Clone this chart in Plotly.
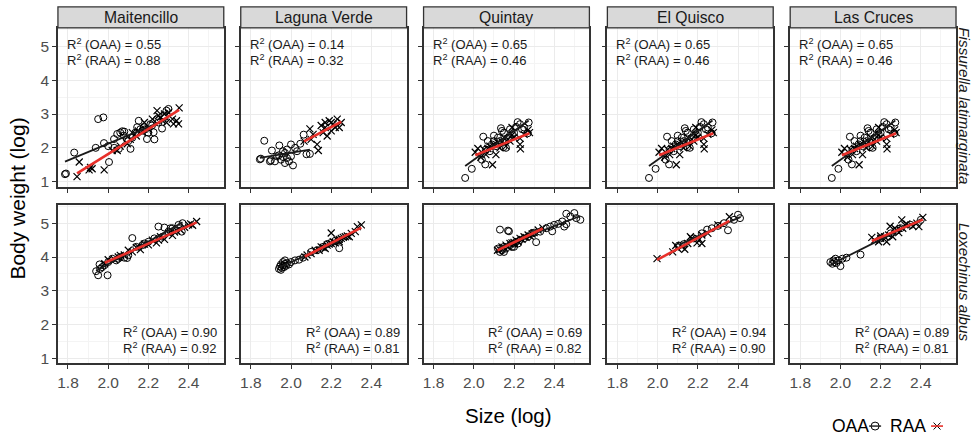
import numpy as np
import plotly.graph_objects as go

# ---------------------------------------------------------------- data
sites = ["Maitencillo", "Laguna Verde", "Quintay", "El Quisco", "Las Cruces"]
species = ["Fissurella latimarginata", "Loxechinus albus"]

r2_oaa_fl = [0.55, 0.14, 0.65, 0.65, 0.65]
r2_raa_fl = [0.88, 0.32, 0.46, 0.46, 0.46]
r2_oaa_la = [0.90, 0.89, 0.69, 0.94, 0.89]
r2_raa_la = [0.92, 0.81, 0.82, 0.90, 0.81]

x_ticks = [1.8, 2.0, 2.2, 2.4]
y_ticks = [1, 2, 3, 4, 5]

# (log size, log body weight) pairs, Fissurella latimarginata
fl_maitencillo_oaa = [
    (1.785, 1.22), (1.79, 1.24), (1.831, 1.86), (1.95, 2.85), (1.976, 2.90),
    (1.938, 2.00), (2.004, 1.58), (1.979, 2.14), (2.029, 2.26), (2.045, 2.41),
    (2.07, 2.49), (2.078, 2.36), (2.053, 1.97), (2.093, 2.26), (2.111, 1.97),
    (2.144, 2.61), (2.152, 2.80), (2.17, 2.51), (2.193, 2.26), (2.218, 2.66),
    (2.243, 2.85), (2.268, 2.57), (2.30, 3.15), (2.226, 2.46), (2.177, 2.61),
    (2.06, 2.45), (2.08, 2.48), (2.12, 2.30), (2.16, 2.55), (2.20, 2.45),
    (2.25, 2.75), (2.28, 2.95), (2.03, 2.00), (2.00, 2.05), (2.10, 2.20),
    (2.135, 2.45), (2.185, 2.55), (2.21, 2.70), (2.29, 3.10), (2.23, 2.25),
]
fl_maitencillo_raa = [
    (1.845, 1.15), (1.856, 1.58), (1.905, 1.35), (1.912, 1.42), (1.92, 1.38),
    (1.98, 1.35), (2.02, 1.92), (2.045, 1.92), (2.06, 2.05), (2.095, 2.12),
    (2.11, 2.25), (2.12, 2.45), (2.14, 2.35), (2.15, 2.50), (2.17, 2.45),
    (2.18, 2.75), (2.20, 2.55), (2.22, 2.85), (2.243, 3.10), (2.25, 2.95),
    (2.26, 2.90), (2.29, 2.75), (2.325, 2.71), (2.35, 2.71), (2.353, 3.18),
    (2.32, 2.85), (2.28, 3.00), (2.30, 3.05), (2.27, 2.80), (2.34, 2.80),
]
fl_lagunaverde_oaa = [
    (1.845, 1.66), (1.85, 1.68), (1.867, 2.21), (1.895, 1.60), (1.90, 1.63),
    (1.905, 1.92), (1.92, 1.60), (1.94, 1.78), (1.942, 2.07), (1.96, 1.73),
    (1.96, 1.90), (1.97, 1.55), (1.97, 1.85), (1.99, 1.60), (2.00, 2.10),
    (2.01, 1.48), (2.03, 1.90), (2.046, 2.12), (2.063, 2.39), (2.077, 1.81),
    (2.094, 1.82), (1.98, 1.95), (1.95, 1.65), (1.93, 1.75), (2.00, 1.75),
    (2.02, 2.00), (1.98, 1.70),
]
fl_lagunaverde_raa = [
    (2.065, 2.20), (2.094, 2.56), (2.10, 2.25), (2.11, 2.40), (2.13, 2.10),
    (2.136, 1.92), (2.15, 2.66), (2.16, 2.45), (2.17, 2.60), (2.18, 2.35),
    (2.19, 2.80), (2.20, 2.75), (2.21, 2.70), (2.22, 2.60), (2.23, 2.85),
    (2.24, 2.60), (2.25, 2.75), (2.20, 2.50), (2.17, 2.75),
]
fl_coast_oaa = [
    (1.957, 1.11), (1.99, 1.38), (2.04, 1.65), (2.047, 2.33), (2.057, 1.51),
    (2.07, 2.20), (2.08, 1.90), (2.09, 2.10), (2.10, 2.36), (2.11, 2.05),
    (2.135, 2.58), (2.14, 2.50), (2.147, 2.02), (2.16, 2.00), (2.17, 2.30),
    (2.19, 2.40), (2.21, 2.62), (2.218, 2.76), (2.25, 2.60), (2.268, 2.43),
    (2.273, 2.75), (2.12, 2.30), (2.15, 2.45), (2.18, 2.55), (2.20, 2.45),
    (2.23, 2.70), (2.06, 1.95), (2.10, 2.20), (2.13, 2.20), (2.24, 2.55),
]
fl_coast_raa = [
    (2.007, 1.87), (2.02, 1.98), (2.035, 1.72), (2.06, 1.80), (2.07, 1.98),
    (2.093, 1.50), (2.11, 1.80), (2.14, 2.18), (2.16, 2.05), (2.19, 2.38),
    (2.19, 2.60), (2.23, 2.28), (2.23, 2.10), (2.232, 1.97), (2.27, 2.53),
    (2.277, 2.45), (2.10, 2.10), (2.12, 2.15), (2.15, 2.30), (2.17, 2.25),
    (2.20, 2.30), (2.25, 2.40), (2.05, 1.95), (2.08, 2.05), (2.13, 2.00),
    (2.18, 2.20),
]
fl_quintay_oaa, fl_quintay_raa = fl_coast_oaa, fl_coast_raa
fl_elquisco_oaa, fl_elquisco_raa = fl_coast_oaa, fl_coast_raa
fl_lascruces_oaa, fl_lascruces_raa = fl_coast_oaa, fl_coast_raa

# (log size, log body weight) pairs, Loxechinus albus
la_maitencillo_oaa = [
    (1.94, 3.58), (1.95, 3.46), (1.957, 3.78), (1.96, 3.65), (1.97, 3.70),
    (1.997, 3.46), (2.00, 3.85), (2.02, 3.95), (2.04, 3.90), (2.06, 4.00),
    (2.094, 3.97), (2.10, 4.05), (2.12, 4.56), (2.14, 4.30), (2.17, 4.35),
    (2.20, 4.45), (2.23, 4.55), (2.25, 4.90), (2.28, 4.87), (2.30, 4.75),
    (2.32, 4.85), (2.366, 4.75), (2.35, 4.95), (2.27, 4.60), (2.18, 4.40),
    (1.98, 3.75), (2.05, 3.95), (2.08, 3.98), (2.31, 4.85), (2.37, 5.00),
]
la_maitencillo_raa = [
    (1.983, 3.80), (2.00, 3.92), (2.03, 3.93), (2.06, 4.05), (2.08, 4.06),
    (2.10, 4.20), (2.12, 4.15), (2.14, 4.28), (2.16, 4.22), (2.18, 4.38),
    (2.20, 4.36), (2.22, 4.50), (2.24, 4.42), (2.26, 4.60), (2.28, 4.52),
    (2.30, 4.70), (2.32, 4.64), (2.34, 4.78), (2.36, 4.80), (2.38, 4.88),
    (2.40, 4.95), (2.42, 4.94), (2.44, 5.05), (2.05, 4.00), (2.15, 4.30),
    (2.25, 4.50), (2.33, 4.74), (2.41, 4.98),
]
la_lagunaverde_oaa = [
    (1.94, 3.65), (1.945, 3.72), (1.95, 3.78), (1.955, 3.68), (1.96, 3.75),
    (1.96, 3.85), (1.965, 3.70), (1.97, 3.80), (1.975, 3.74), (1.98, 3.82),
    (1.99, 3.78), (2.00, 3.85), (2.02, 3.90), (2.04, 3.92), (2.06, 3.98),
    (1.95, 3.62), (1.97, 3.90), (2.10, 4.15), (2.16, 4.30), (2.20, 4.42),
    (2.24, 4.26), (2.22, 4.48), (2.18, 4.38), (2.13, 4.20), (2.24, 4.50),
]
la_lagunaverde_raa = [
    (2.069, 4.00), (2.08, 4.06), (2.10, 4.10), (2.12, 4.20), (2.14, 4.20),
    (2.15, 4.30), (2.16, 4.28), (2.18, 4.35), (2.19, 4.38), (2.20, 4.71),
    (2.20, 4.40), (2.21, 4.45), (2.22, 4.42), (2.23, 4.50), (2.24, 4.52),
    (2.25, 4.55), (2.26, 4.58), (2.27, 4.60), (2.28, 4.62), (2.30, 4.70),
    (2.33, 4.90), (2.35, 4.95), (2.32, 4.75), (2.17, 4.25), (2.24, 4.45),
    (2.29, 4.60),
]
la_quintay_oaa = [
    (2.12, 4.25), (2.13, 4.81), (2.13, 4.15), (2.14, 4.20), (2.15, 4.30),
    (2.16, 4.25), (2.17, 4.78), (2.175, 4.76), (2.18, 4.35), (2.19, 4.30),
    (2.20, 4.40), (2.21, 4.45), (2.22, 4.40), (2.23, 4.50), (2.25, 4.55),
    (2.27, 4.60), (2.29, 4.70), (2.30, 4.72), (2.31, 4.44), (2.33, 4.75),
    (2.36, 4.85), (2.38, 4.90), (2.39, 4.76), (2.40, 4.95), (2.42, 4.98),
    (2.44, 5.05), (2.45, 4.90), (2.46, 5.28), (2.48, 5.20), (2.50, 5.30),
    (2.51, 5.15), (2.53, 5.10), (2.46, 4.97), (2.15, 4.15), (2.20, 4.30),
]
la_quintay_raa = [
    (2.118, 4.20), (2.13, 4.22), (2.15, 4.28), (2.16, 4.35), (2.17, 4.30),
    (2.18, 4.40), (2.19, 4.42), (2.20, 4.43), (2.21, 4.50), (2.22, 4.45),
    (2.23, 4.55), (2.24, 4.52), (2.25, 4.60), (2.26, 4.58), (2.28, 4.62),
    (2.30, 4.72), (2.32, 4.80), (2.343, 4.86), (2.27, 4.65), (2.29, 4.68),
    (2.14, 4.30), (2.20, 4.38),
]
la_elquisco_oaa = [
    (2.105, 4.34), (2.13, 4.38), (2.18, 4.55), (2.22, 4.70), (2.246, 4.81),
    (2.27, 4.85), (2.30, 4.92), (2.35, 4.79), (2.38, 5.10), (2.40, 5.25),
    (2.41, 5.15), (2.33, 5.00),
]
la_elquisco_raa = [
    (1.997, 3.95), (2.075, 4.15), (2.09, 4.34), (2.10, 4.25), (2.135, 4.23),
    (2.15, 4.40), (2.163, 4.60), (2.17, 4.55), (2.196, 4.42), (2.208, 4.52),
    (2.22, 4.40), (2.22, 4.65), (2.30, 4.95), (2.357, 5.19), (2.25, 4.70),
    (2.12, 4.30),
]
la_lascruces_oaa = [
    (1.95, 3.85), (1.96, 3.80), (1.965, 3.90), (1.97, 3.85), (1.975, 3.95),
    (1.98, 3.82), (1.99, 3.90), (2.00, 3.73), (2.01, 3.95), (2.03, 3.98),
    (2.10, 4.07), (2.20, 4.55), (2.25, 4.70), (2.30, 4.85), (2.35, 4.95),
    (2.40, 5.10), (2.28, 4.78),
]
la_lascruces_raa = [
    (2.156, 4.58), (2.17, 4.50), (2.19, 4.45), (2.20, 4.55), (2.22, 4.60),
    (2.23, 4.45), (2.24, 4.65), (2.247, 4.91), (2.26, 4.60), (2.27, 4.85),
    (2.28, 4.80), (2.29, 4.72), (2.305, 5.10), (2.31, 4.85), (2.32, 4.95),
    (2.33, 4.98), (2.36, 4.91), (2.38, 5.00), (2.39, 4.90), (2.41, 5.17),
    (2.20, 4.62),
]

panels = [
    [(fl_maitencillo_oaa, fl_maitencillo_raa), (fl_lagunaverde_oaa, fl_lagunaverde_raa),
     (fl_quintay_oaa, fl_quintay_raa), (fl_elquisco_oaa, fl_elquisco_raa),
     (fl_lascruces_oaa, fl_lascruces_raa)],
    [(la_maitencillo_oaa, la_maitencillo_raa), (la_lagunaverde_oaa, la_lagunaverde_raa),
     (la_quintay_oaa, la_quintay_raa), (la_elquisco_oaa, la_elquisco_raa),
     (la_lascruces_oaa, la_lascruces_raa)],
]
r2_text = [(r2_oaa_fl, r2_raa_fl), (r2_oaa_la, r2_raa_la)]

# ---------------------------------------------------------------- layout geometry (pixels)
W, H = 973, 439
col_left = [57, 240, 423, 607, 790]
panel_w = 166
row_top = [28, 206]
panel_h = 160
strip_h = 21
FONT = "Liberation Sans, Arial, Helvetica, sans-serif"
RED = "#E8302A"
BORDER = "#333333"


def px(x):
    return x / W


def py(y):
    return 1 - y / H


fig = go.Figure()
layout = {}
annotations = []
shapes = []


def fit_line(pts):
    xs = np.array([p[0] for p in pts])
    ys = np.array([p[1] for p in pts])
    b, a = np.polyfit(xs, ys, 1)
    xe = np.array([xs.min(), xs.max()])
    return xe, a + b * xe


for r in range(2):
    for c in range(5):
        k = r * 5 + c + 1
        xa = "x" if k == 1 else f"x{k}"
        ya = "y" if k == 1 else f"y{k}"
        xkey = "xaxis" if k == 1 else f"xaxis{k}"
        ykey = "yaxis" if k == 1 else f"yaxis{k}"
        oaa, raa = panels[r][c]

        fig.add_trace(go.Scatter(
            x=[p[0] for p in oaa], y=[p[1] for p in oaa], mode="markers",
            marker=dict(symbol="circle-open", size=7, color="black",
                        line=dict(width=1, color="black")),
            xaxis=xa, yaxis=ya, showlegend=False, hoverinfo="skip"))
        fig.add_trace(go.Scatter(
            x=[p[0] for p in raa], y=[p[1] for p in raa], mode="markers",
            marker=dict(symbol="x-thin-open", size=7, color="black",
                        line=dict(width=1.2, color="black")),
            xaxis=xa, yaxis=ya, showlegend=False, hoverinfo="skip"))
        lx, ly = fit_line(oaa)
        fig.add_trace(go.Scatter(x=lx, y=ly, mode="lines",
                                 line=dict(color="#1A1A1A", width=1.8),
                                 xaxis=xa, yaxis=ya, showlegend=False, hoverinfo="skip"))
        lx, ly = fit_line(raa)
        fig.add_trace(go.Scatter(x=lx, y=ly, mode="lines",
                                 line=dict(color=RED, width=2.6),
                                 xaxis=xa, yaxis=ya, showlegend=False, hoverinfo="skip"))

        x0, x1 = col_left[c], col_left[c] + panel_w
        y0, y1 = row_top[r], row_top[r] + panel_h
        layout[xkey] = dict(
            domain=[px(x0), px(x1)], anchor=ya, range=[1.75, 2.575],
            tickvals=x_ticks, ticktext=[f"{v:.1f}" for v in x_ticks],
            showticklabels=(r == 1), ticks="outside", ticklen=4, tickwidth=1,
            tickcolor=BORDER, showline=True, mirror=True, linecolor=BORDER,
            linewidth=1.6, showgrid=True, gridcolor="#EBEBEB", gridwidth=1,
            minor=dict(tick0=1.7, dtick=0.2, showgrid=True, gridcolor="#F4F4F4",
                       gridwidth=0.6, ticks=""),
            zeroline=False, tickfont=dict(family=FONT, size=15.5, color="#4D4D4D"))
        layout[ykey] = dict(
            domain=[py(y1), py(y0)], anchor=xa, range=[0.85, 5.55],
            tickvals=y_ticks, showticklabels=(c == 0), ticks="outside",
            ticklen=4, tickwidth=1, tickcolor=BORDER, showline=True, mirror=True,
            linecolor=BORDER, linewidth=1.6, showgrid=True, gridcolor="#EBEBEB",
            gridwidth=1,
            minor=dict(tick0=0.5, dtick=1, showgrid=True, gridcolor="#F4F4F4",
                       gridwidth=0.6, ticks=""),
            zeroline=False, tickfont=dict(family=FONT, size=15.5, color="#4D4D4D"))

        # R² labels
        oaa_r2, raa_r2 = r2_text[r][0][c], r2_text[r][1][c]
        lines = [f"R<sup>2</sup> (OAA) = {oaa_r2:.2f}", f"R<sup>2</sup> (RAA) = {raa_r2:.2f}"]
        for i, t in enumerate(lines):
            if r == 0:
                annotations.append(dict(
                    x=px(x0 + 7), y=py(44 + i * 16), xref="paper", yref="paper",
                    text=t, showarrow=False, xanchor="left", yanchor="middle",
                    font=dict(family=FONT, size=13, color="#1A1A1A")))
            else:
                annotations.append(dict(
                    x=px(x1 - 5), y=py(334 + i * 16), xref="paper", yref="paper",
                    text=t, showarrow=False, xanchor="right", yanchor="middle",
                    font=dict(family=FONT, size=13, color="#1A1A1A")))

# facet strips
for c, name in enumerate(sites):
    x0 = col_left[c]
    shapes.append(dict(type="rect", xref="paper", yref="paper",
                       x0=px(x0), x1=px(x0 + panel_w), y0=py(row_top[0]),
                       y1=py(row_top[0] - strip_h), fillcolor="#D9D9D9",
                       line=dict(color=BORDER, width=1.3), layer="above"))
    annotations.append(dict(x=px(x0 + panel_w / 2), y=py(row_top[0] - strip_h / 2),
                            xref="paper", yref="paper", text=name, showarrow=False,
                            xanchor="center", yanchor="middle",
                            font=dict(family=FONT, size=15.7, color="#1A1A1A")))

# species labels on the right
for r, sp in enumerate(species):
    annotations.append(dict(x=px(965), y=py(row_top[r] + panel_h / 2 - 2), xref="paper",
                            yref="paper", text=f"<i>{sp}</i>", showarrow=False,
                            textangle=90, xanchor="center", yanchor="middle",
                            font=dict(family=FONT, size=15.3, color="#1A1A1A")))

# axis titles
annotations.append(dict(x=px(17), y=py(200), xref="paper", yref="paper",
                        text="Body weight (log)", showarrow=False, textangle=-90,
                        xanchor="center", yanchor="middle",
                        font=dict(family=FONT, size=21, color="black")))
annotations.append(dict(x=px(508), y=py(418), xref="paper", yref="paper",
                        text="Size (log)", showarrow=False, xanchor="center",
                        yanchor="middle", font=dict(family=FONT, size=20.5, color="black")))

# legend: text followed by its key
ly_ = 429
annotations.append(dict(x=px(830), y=py(ly_), xref="paper", yref="paper", text="OAA",
                        showarrow=False, xanchor="left", yanchor="middle",
                        font=dict(family=FONT, size=17.5, color="black")))
annotations.append(dict(x=px(888), y=py(ly_), xref="paper", yref="paper", text="RAA",
                        showarrow=False, xanchor="left", yanchor="middle",
                        font=dict(family=FONT, size=17.5, color="black")))
shapes.append(dict(type="circle", xref="paper", yref="paper",
                   x0=px(871), x1=px(879), y0=py(ly_ - 4), y1=py(ly_ + 4),
                   line=dict(color="black", width=1)))
shapes.append(dict(type="line", xref="paper", yref="paper",
                   x0=px(869), x1=px(881), y0=py(ly_), y1=py(ly_),
                   line=dict(color="#1A1A1A", width=1.4)))
shapes.append(dict(type="line", xref="paper", yref="paper",
                   x0=px(933.5), x1=px(940.5), y0=py(ly_ - 3.5), y1=py(ly_ + 3.5),
                   line=dict(color="black", width=1)))
shapes.append(dict(type="line", xref="paper", yref="paper",
                   x0=px(933.5), x1=px(940.5), y0=py(ly_ + 3.5), y1=py(ly_ - 3.5),
                   line=dict(color="black", width=1)))
shapes.append(dict(type="line", xref="paper", yref="paper",
                   x0=px(931), x1=px(943), y0=py(ly_), y1=py(ly_),
                   line=dict(color=RED, width=1.6)))

fig.update_layout(
    width=W, height=H, margin=dict(l=0, r=0, t=0, b=0),
    paper_bgcolor="white", plot_bgcolor="white",
    annotations=annotations, shapes=shapes, showlegend=False,
    font=dict(family=FONT), **layout)

fig.write_html("out.html")
